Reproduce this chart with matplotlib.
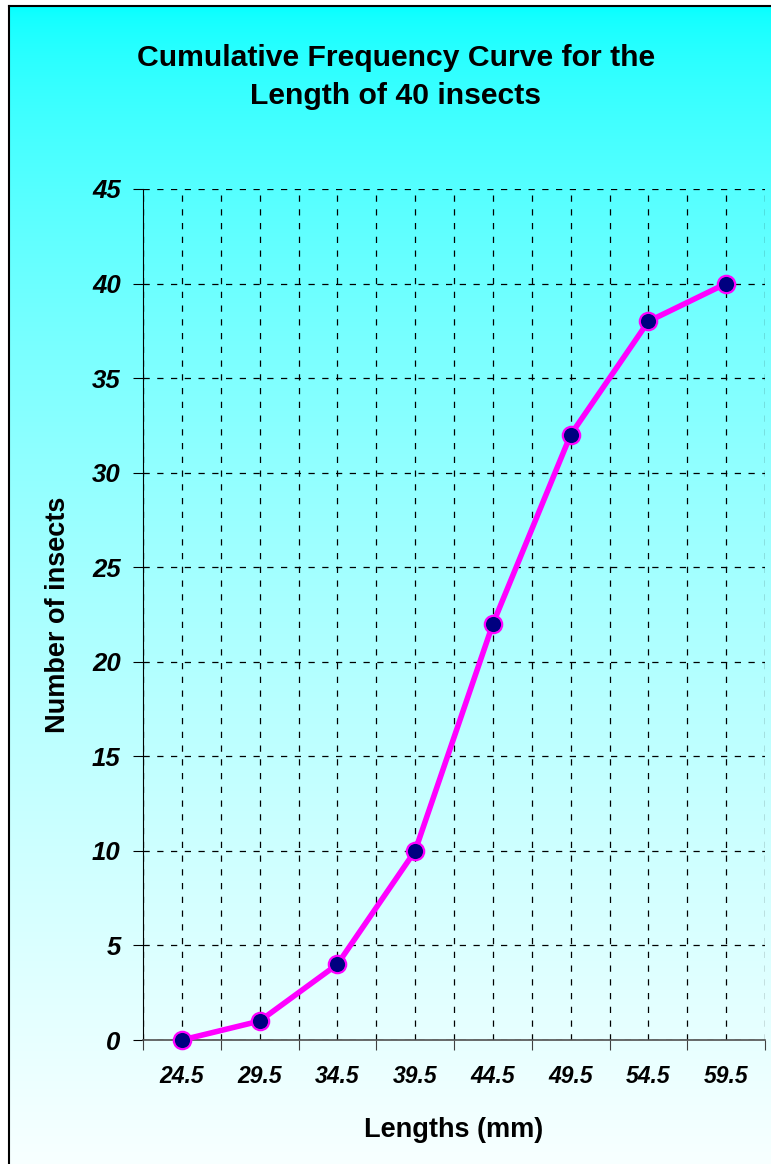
import numpy as np
import matplotlib.pyplot as plt

lengths = ["24.5", "29.5", "34.5", "39.5", "44.5", "49.5", "54.5", "59.5"]
cum_freq = [0, 1, 4, 10, 22, 32, 38, 40]
y_ticks = [0, 5, 10, 15, 20, 25, 30, 35, 40, 45]

W, H = 771, 1164
fig = plt.figure(figsize=(W / 100, H / 100), dpi=100)
fig.patch.set_facecolor("white")

# gradient backdrop: cyan at the top fading to near white at the bottom
bg = fig.add_axes([9 / W, 0, 1, 1 - 6 / H])
t = np.linspace(0, 1, 400) ** 0.6
grad = np.zeros((400, 1, 3))
grad[:, 0, 0] = 0.02 + 0.95 * t
grad[:, 0, 1] = 1.0
grad[:, 0, 2] = 1.0
bg.imshow(grad, aspect="auto", extent=[0, 1, 0, 1], origin="upper")
bg.set_xlim(0, 1)
bg.set_ylim(0, 1)
bg.set_xticks([])
bg.set_yticks([])
for side in ["right", "bottom"]:
    bg.spines[side].set_visible(False)
for side in ["left", "top"]:
    bg.spines[side].set_color("black")
    bg.spines[side].set_linewidth(1.5)

ax = fig.add_axes([143 / W, 1 - 1040 / H, (765 - 143) / W, (1040 - 189) / H])
ax.patch.set_alpha(0)

x = np.arange(len(lengths))
ax.plot(x, cum_freq, color="#FF00FF", lw=4, marker="o", markersize=12.5,
        markerfacecolor="#000080", markeredgecolor="#FF00FF", markeredgewidth=1.6,
        zorder=5, clip_on=False)

ax.set_xlim(-0.5, len(lengths) - 0.5)
ax.set_ylim(0, 45)

# category boundaries get tick marks, category centres carry the labels
ax.set_xticks(np.arange(-0.5, len(lengths), 1.0))
ax.set_xticklabels([])
ax.set_xticks(x, minor=True)
ax.set_xticklabels(lengths, minor=True)
ax.tick_params(axis="x", which="major", length=7, direction="out", color="#404040")
ax.tick_params(axis="x", which="minor", length=0, pad=18)
ax.set_yticks(y_ticks)
ax.tick_params(axis="y", length=7, direction="out", pad=9)

for lab in ax.get_xticklabels(minor=True) + ax.get_yticklabels():
    lab.set_fontfamily("Liberation Sans")
    lab.set_fontweight("bold")
    lab.set_fontstyle("italic")
for lab in ax.get_xticklabels(minor=True):
    lab.set_fontsize(16.5)
for lab in ax.get_yticklabels():
    lab.set_fontsize(18.5)

ax.grid(True, which="both", axis="x", color="black", linestyle=(0, (5, 6)), lw=0.9)
ax.grid(True, which="major", axis="y", color="black", linestyle=(0, (5, 6)), lw=0.9)
ax.set_axisbelow(True)

ax.spines["top"].set_visible(False)
ax.spines["right"].set_visible(False)
ax.spines["left"].set_color("black")
ax.spines["bottom"].set_color("#505050")
ax.spines["bottom"].set_linewidth(1.2)

ax.set_xlabel("Lengths (mm)", fontfamily="Liberation Sans", fontweight="bold",
              fontsize=19.5, labelpad=21)
ax.set_ylabel("Number of insects", fontfamily="Liberation Sans", fontweight="bold",
              fontsize=19.5, labelpad=15)

fig.text(396 / W, 1 - 77 / H, "Cumulative Frequency Curve for the\nLength of 40 insects",
         ha="center", va="center", fontfamily="Liberation Sans", fontweight="bold",
         fontsize=21.7, linespacing=1.5)

fig.savefig("out.png", dpi=100)
